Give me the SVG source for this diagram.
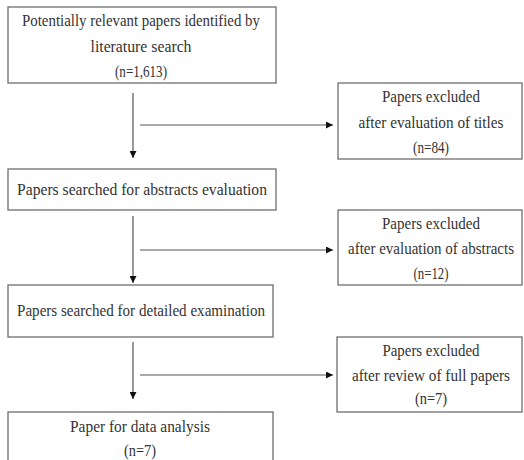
<svg xmlns="http://www.w3.org/2000/svg" width="524" height="460" viewBox="0 0 524 460">
<defs>
<style>
.box{fill:#fff;stroke:#6e6e6e;stroke-width:1.3}
.t{font-family:"Liberation Serif","Noto Sans CJK KR",serif;font-size:16.5px;fill:#333;text-anchor:middle}
.ln{stroke:#555;stroke-width:1.2;fill:none}
</style>
<marker id="ah" viewBox="0 0 10 10" refX="10" refY="5" markerWidth="7" markerHeight="7" markerUnits="userSpaceOnUse" orient="auto">
<path d="M0,0 L10,5 L0,10 Z" fill="#111"/>
</marker>
</defs>
<rect width="524" height="460" fill="#fff"/>
<g id="connectors">
<line class="ln" x1="133" y1="93" x2="133" y2="158" marker-end="url(#ah)"/>
<line class="ln" x1="140" y1="125" x2="333" y2="125" marker-end="url(#ah)"/>
<line class="ln" x1="133" y1="216" x2="133" y2="283" marker-end="url(#ah)"/>
<line class="ln" x1="140" y1="250" x2="333" y2="250" marker-end="url(#ah)"/>
<line class="ln" x1="133" y1="342" x2="133" y2="399" marker-end="url(#ah)"/>
<line class="ln" x1="140" y1="375" x2="333" y2="375" marker-end="url(#ah)"/>
</g>
<g id="search">
<rect class="box" x="8" y="7" width="268" height="76"/>
<text class="t" x="141" y="26" textLength="238" lengthAdjust="spacingAndGlyphs">Potentially relevant papers identified by</text>
<text class="t" x="141" y="52" textLength="101" lengthAdjust="spacingAndGlyphs">literature search</text>
<text class="t" x="141" y="77" textLength="52" lengthAdjust="spacingAndGlyphs">(n=1,613)</text>
</g>
<g id="excl-titles">
<rect class="box" x="338" y="83" width="184" height="76"/>
<text class="t" x="431" y="102" textLength="98" lengthAdjust="spacingAndGlyphs">Papers excluded</text>
<text class="t" x="431" y="128" textLength="145" lengthAdjust="spacingAndGlyphs">after evaluation of titles</text>
<text class="t" x="431" y="153" textLength="36" lengthAdjust="spacingAndGlyphs">(n=84)</text>
</g>
<g id="abstracts">
<rect class="box" x="8" y="169" width="268" height="41"/>
<text class="t" x="142" y="195" textLength="250" lengthAdjust="spacingAndGlyphs">Papers searched for abstracts evaluation</text>
</g>
<g id="excl-abstracts">
<rect class="box" x="338" y="210" width="184" height="75"/>
<text class="t" x="431" y="229" textLength="98" lengthAdjust="spacingAndGlyphs">Papers excluded</text>
<text class="t" x="431" y="254" textLength="166" lengthAdjust="spacingAndGlyphs">after evaluation of abstracts</text>
<text class="t" x="431" y="279" textLength="35" lengthAdjust="spacingAndGlyphs">(n=12)</text>
</g>
<g id="detailed">
<rect class="box" x="8" y="285" width="265" height="52"/>
<text class="t" x="141" y="316" textLength="248" lengthAdjust="spacingAndGlyphs">Papers searched for detailed examination</text>
</g>
<g id="excl-full">
<rect class="box" x="337" y="337" width="185" height="75"/>
<text class="t" x="431" y="356" textLength="97" lengthAdjust="spacingAndGlyphs">Papers excluded</text>
<text class="t" x="431" y="381" textLength="158" lengthAdjust="spacingAndGlyphs">after review of full papers</text>
<text class="t" x="431" y="404" textLength="32" lengthAdjust="spacingAndGlyphs">(n=7)</text>
</g>
<g id="analysis">
<rect class="box" x="8" y="412" width="265" height="60"/>
<text class="t" x="140" y="432" textLength="140" lengthAdjust="spacingAndGlyphs">Paper for data analysis</text>
<text class="t" x="140" y="456" textLength="32" lengthAdjust="spacingAndGlyphs">(n=7)</text>
</g>
</svg>
